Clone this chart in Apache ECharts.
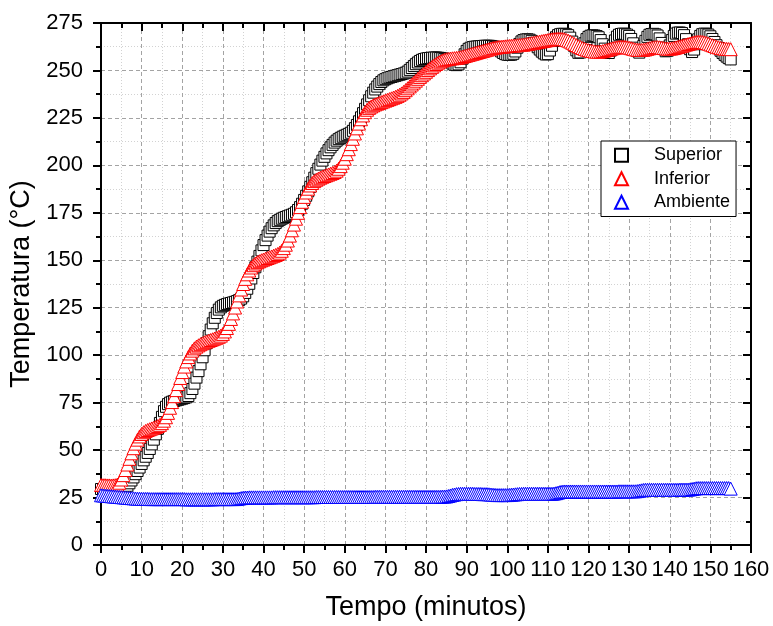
<!DOCTYPE html>
<html>
<head>
<meta charset="utf-8">
<script src="https://cdn.jsdelivr.net/npm/echarts@6/dist/echarts.min.js"></script>
<style>
  html, body { margin: 0; padding: 0; background: #ffffff; }
  #chart { width: 773px; height: 626px; }
</style>
</head>
<body>
<div id="chart"></div>
<script>
// Logger sampling interval (minutes between readings)
const SAMPLE_STEP = 0.5;

// Axis ticks
const xTicks = [0, 10, 20, 30, 40, 50, 60, 70, 80, 90, 100, 110, 120, 130, 140, 150, 160];
const yTicks = [0, 25, 50, 75, 100, 125, 150, 175, 200, 225, 250, 275];

const seriesNames = ['Superior', 'Inferior', 'Ambiente'];

// Top plate temperature (°C), one row = 5 minutes of readings
const superior = [
  29.5, 29.4, 29.3, 29.3, 29.2, 29.2, 29.1, 29.1, 29.2, 29.3,   // 0
  29.5, 29.8, 30.2, 31.2, 32.5, 34.0, 35.6, 37.3, 39.0, 40.8,   // 5
  42.7, 44.6, 46.5, 48.5, 50.6, 53.0, 55.5, 58.3, 61.2, 64.3,   // 10
  67.5, 70.5, 72.8, 74.2, 75.0, 75.5, 75.9, 76.2, 76.5, 76.8,   // 15
  77.1, 77.4, 77.8, 78.5, 80.0, 82.2, 85.0, 88.2, 91.6, 95.2,   // 20
  98.9, 102.6, 106.3, 110.0, 113.5, 116.8, 119.7, 122.2, 124.0, 125.2,   // 25
  126.0, 126.5, 126.9, 127.2, 127.5, 127.8, 128.1, 128.5, 129.0, 129.8,  // 30
  131.0, 132.8, 135.0, 137.6, 140.4, 143.3, 146.3, 149.3, 152.3, 155.2,  // 35
  158.0, 160.6, 163.0, 165.1, 166.9, 168.4, 169.6, 170.6, 171.3, 171.9,  // 40
  172.4, 172.8, 173.2, 173.6, 174.0, 174.5, 175.3, 176.5, 178.0, 179.8,  // 45
  181.8, 184.0, 186.3, 188.7, 191.1, 193.5, 195.9, 198.2, 200.4, 202.5,  // 50
  204.5, 206.3, 208.0, 209.5, 210.8, 212.0, 213.0, 213.8, 214.5, 215.1,  // 55
  215.6, 216.1, 216.6, 217.2, 218.2, 219.6, 221.3, 223.2, 225.3, 227.5,  // 60
  229.8, 232.1, 234.3, 236.4, 238.3, 240.0, 241.5, 242.8, 243.9, 244.8,  // 65
  245.4, 245.9, 246.3, 246.6, 246.9, 247.2, 247.5, 247.8, 248.1, 248.4,  // 70
  248.8, 249.4, 250.3, 251.3, 252.3, 253.3, 254.2, 255.0, 255.6, 256.0,  // 75
  256.3, 256.5, 256.6, 256.7, 256.8, 256.8, 256.7, 256.6, 256.4, 256.1,  // 80
  255.7, 255.1, 254.4, 253.6, 253.0, 252.8, 253.2, 254.3, 256.2, 258.5,  // 85
  260.3, 261.4, 262.0, 262.3, 262.5, 262.6, 262.7, 262.8, 262.9, 263.0,  // 90
  263.0, 263.0, 262.9, 262.7, 262.3, 261.7, 260.9, 260.0, 259.2, 258.6,  // 95
  258.3, 258.2, 258.3, 258.8, 260.0, 262.0, 264.0, 265.3, 266.0, 266.3,  // 100
  266.4, 266.2, 265.6, 264.6, 263.4, 262.2, 261.0, 259.9, 259.0, 258.4,  // 105
  258.6, 260.5, 263.0, 265.5, 267.5, 268.6, 269.1, 269.3, 269.3, 269.1,  // 110
  268.6, 267.3, 265.2, 262.8, 260.6, 259.3, 259.5, 261.5, 264.3, 266.5,  // 115
  267.7, 268.3, 268.5, 268.4, 268.1, 267.5, 266.0, 263.8, 261.5, 259.8,  // 120
  259.2, 260.5, 263.0, 265.8, 267.8, 268.8, 269.2, 269.4, 269.3, 268.9,  // 125
  268.2, 266.6, 264.3, 262.0, 260.2, 259.4, 260.3, 262.9, 265.6, 267.7,  // 130
  268.8, 269.2, 269.3, 269.0, 268.4, 266.9, 264.5, 262.1, 260.1, 260.4,  // 135
  263.2, 266.0, 268.2, 269.4, 269.9, 270.0, 269.7, 268.6, 266.5, 263.8,  // 140
  261.2, 259.7, 261.0, 263.8, 266.4, 268.2, 269.1, 269.4, 269.3, 268.9,  // 145
  268.0, 266.6, 265.0, 263.3, 261.8, 260.4, 259.2, 258.2, 257.3, 256.5,  // 150
  255.8                                                                  // 155
];

// Bottom plate temperature (°C)
const inferior = [
  31.6, 31.5, 31.5, 31.4, 31.4, 31.3, 31.4, 31.5, 31.8, 32.8,   // 0
  34.5, 36.8, 39.5, 42.4, 45.4, 48.3, 51.0, 53.4, 55.5, 57.2,   // 5
  58.5, 59.4, 60.1, 60.6, 61.0, 61.4, 61.8, 62.2, 62.7, 63.3,   // 10
  64.2, 65.5, 67.3, 69.6, 72.3, 75.3, 78.4, 81.6, 84.8, 88.0,   // 15
  91.1, 94.0, 96.7, 99.0, 100.9, 102.4, 103.6, 104.5, 105.2, 105.8,      // 20
  106.3, 106.8, 107.2, 107.6, 108.0, 108.4, 108.8, 109.2, 109.7, 110.3,  // 25
  111.2, 112.5, 114.3, 116.5, 119.1, 122.0, 125.1, 128.3, 131.5, 134.6,  // 30
  137.5, 140.2, 142.6, 144.6, 146.2, 147.4, 148.3, 149.0, 149.5, 150.0,  // 35
  150.4, 150.8, 151.2, 151.6, 152.0, 152.4, 152.8, 153.3, 154.0, 155.0,  // 40
  156.4, 158.2, 160.4, 163.0, 165.8, 168.8, 171.9, 175.0, 178.0, 180.8,  // 45
  183.4, 185.7, 187.7, 189.4, 190.7, 191.7, 192.4, 193.0, 193.5, 194.0,  // 50
  194.4, 194.8, 195.2, 195.6, 196.0, 196.5, 197.2, 198.2, 199.6, 201.4,  // 55
  203.5, 205.9, 208.5, 211.2, 214.0, 216.8, 219.5, 222.0, 224.3, 226.3,  // 60
  228.0, 229.3, 230.3, 231.0, 231.6, 232.1, 232.5, 232.9, 233.3, 233.7,  // 65
  234.1, 234.5, 234.9, 235.3, 235.7, 236.1, 236.6, 237.2, 237.9, 238.7,  // 70
  239.6, 240.6, 241.6, 242.6, 243.6, 244.6, 245.6, 246.6, 247.5, 248.4,  // 75
  249.3, 250.2, 251.1, 251.9, 252.7, 253.4, 254.1, 254.7, 255.2, 255.6,  // 80
  255.9, 256.1, 256.3, 256.4, 256.5, 256.6, 256.8, 257.0, 257.3, 257.6,  // 85
  257.9, 258.2, 258.5, 258.8, 259.1, 259.4, 259.7, 260.0, 260.3, 260.6,  // 90
  260.9, 261.2, 261.5, 261.8, 262.0, 262.2, 262.4, 262.5, 262.6, 262.7,  // 95
  262.8, 262.9, 263.0, 263.1, 263.2, 263.3, 263.4, 263.5, 263.6, 263.8,  // 100
  264.0, 264.2, 264.4, 264.6, 264.8, 265.0, 265.2, 265.4, 265.6, 265.8,  // 105
  266.0, 266.2, 266.4, 266.5, 266.6, 266.7, 266.7, 266.6, 266.4, 266.1,  // 110
  265.7, 265.2, 264.6, 264.0, 263.4, 262.8, 262.3, 261.8, 261.4, 261.0,  // 115
  260.7, 260.4, 260.2, 260.0, 259.9, 259.9, 260.0, 260.2, 260.5, 260.8,  // 120
  261.1, 261.4, 261.7, 262.0, 262.2, 262.4, 262.5, 262.5, 262.4, 262.2,  // 125
  262.0, 261.7, 261.4, 261.1, 260.9, 260.8, 260.8, 260.9, 261.1, 261.4,  // 130
  261.7, 262.0, 262.2, 262.3, 262.3, 262.2, 262.0, 261.8, 261.6, 261.5,  // 135
  261.5, 261.6, 261.8, 262.1, 262.4, 262.7, 263.0, 263.3, 263.6, 263.9,  // 140
  264.2, 264.5, 264.8, 265.0, 265.1, 265.1, 265.0, 264.8, 264.5, 264.1,  // 145
  263.7, 263.3, 262.9, 262.5, 262.2, 261.9, 261.7, 261.5, 261.4, 261.3,  // 150
  261.2                                                                  // 155
];

// Ambient temperature (°C)
const ambiente = [
  26.2, 26.1, 26.0, 25.9, 25.8, 25.7, 25.6, 25.5, 25.4, 25.3,   // 0
  25.2, 25.1, 25.0, 24.9, 24.8, 24.7, 24.6, 24.5, 24.4, 24.4,   // 5
  24.3, 24.3, 24.3, 24.3, 24.2, 24.2, 24.2, 24.2, 24.2, 24.2,   // 10
  24.2, 24.2, 24.2, 24.2, 24.2, 24.2, 24.2, 24.2, 24.2, 24.2,   // 15
  24.2, 24.2, 24.1, 24.1, 24.1, 24.1, 24.1, 24.1, 24.1, 24.1,   // 20
  24.1, 24.1, 24.1, 24.1, 24.1, 24.1, 24.2, 24.2, 24.2, 24.2,   // 25
  24.2, 24.2, 24.2, 24.2, 24.2, 24.2, 24.2, 24.3, 24.5, 24.7,   // 30
  24.9, 25.0, 25.0, 25.1, 25.1, 25.1, 25.1, 25.1, 25.1, 25.1,   // 35
  25.1, 25.1, 25.1, 25.1, 25.1, 25.2, 25.2, 25.2, 25.2, 25.2,   // 40
  25.2, 25.2, 25.2, 25.2, 25.2, 25.2, 25.2, 25.2, 25.2, 25.2,   // 45
  25.2, 25.2, 25.2, 25.2, 25.2, 25.2, 25.3, 25.3, 25.3, 25.3,   // 50
  25.3, 25.3, 25.3, 25.3, 25.3, 25.3, 25.3, 25.3, 25.3, 25.3,   // 55
  25.3, 25.3, 25.3, 25.3, 25.3, 25.3, 25.3, 25.3, 25.3, 25.3,   // 60
  25.3, 25.3, 25.3, 25.3, 25.3, 25.4, 25.4, 25.4, 25.4, 25.4,   // 65
  25.4, 25.4, 25.4, 25.4, 25.4, 25.4, 25.4, 25.4, 25.4, 25.4,   // 70
  25.4, 25.4, 25.4, 25.4, 25.4, 25.4, 25.4, 25.4, 25.4, 25.4,   // 75
  25.4, 25.4, 25.4, 25.4, 25.4, 25.4, 25.4, 25.4, 25.5, 25.5,   // 80
  25.6, 25.8, 26.1, 26.4, 26.6, 26.8, 26.9, 27.0, 27.0, 27.0,   // 85
  27.0, 27.0, 27.0, 27.0, 26.9, 26.9, 26.9, 26.9, 26.8, 26.8,   // 90
  26.8, 26.7, 26.6, 26.5, 26.4, 26.3, 26.3, 26.3, 26.3, 26.3,   // 95
  26.3, 26.4, 26.5, 26.6, 26.7, 26.8, 26.9, 26.9, 27.0, 27.0,   // 100
  27.0, 27.0, 27.0, 27.0, 27.0, 27.0, 27.0, 27.0, 27.0, 27.0,   // 105
  27.0, 27.0, 27.0, 27.1, 27.3, 27.6, 27.9, 28.1, 28.2, 28.2,   // 110
  28.2, 28.2, 28.2, 28.2, 28.2, 28.2, 28.2, 28.2, 28.2, 28.2,   // 115
  28.2, 28.2, 28.2, 28.2, 28.2, 28.2, 28.2, 28.2, 28.2, 28.2,   // 120
  28.2, 28.2, 28.2, 28.2, 28.2, 28.3, 28.3, 28.3, 28.3, 28.3,   // 125
  28.3, 28.3, 28.3, 28.3, 28.4, 28.6, 28.8, 29.0, 29.1, 29.1,   // 130
  29.1, 29.1, 29.1, 29.1, 29.1, 29.1, 29.1, 29.1, 29.1, 29.1,   // 135
  29.1, 29.1, 29.1, 29.1, 29.1, 29.2, 29.2, 29.2, 29.2, 29.2,   // 140
  29.3, 29.5, 29.7, 29.9, 30.0, 30.0, 30.0, 30.0, 30.0, 30.0,   // 145
  30.0, 30.0, 30.0, 30.0, 30.0, 30.0, 30.0, 30.0, 30.0, 30.0,   // 150
  29.7                                                          // 155
];

// Pair each reading with its time stamp
function withTime(values) {
  return values.map((v, i) => [i * SAMPLE_STEP, v]);
}

const FONT = '"Liberation Sans", Arial, Helvetica, sans-serif';
const xMin = xTicks[0], xMax = xTicks[xTicks.length - 1], xStep = xTicks[1] - xTicks[0];
const yMin = yTicks[0], yMax = yTicks[yTicks.length - 1], yStep = yTicks[1] - yTicks[0];

const axisLine = { show: true, onZero: false, lineStyle: { color: '#000', width: 2 } };
const majorTick = (inside) => ({ show: true, inside: inside, length: 8, lineStyle: { color: '#000', width: 2 } });
const minorTick = { show: true, splitNumber: 2, length: 5, lineStyle: { color: '#000', width: 2 } };
const majorGrid = { show: true, lineStyle: { color: '#a3a3a3', type: [4, 3], width: 1 } };
const minorGrid = { show: true, lineStyle: { color: '#d2d2d2', type: [1, 2], width: 1 } };

const chart = echarts.init(document.getElementById('chart'), null, { renderer: 'canvas' });

chart.setOption({
  backgroundColor: '#ffffff',
  animation: false,
  textStyle: { fontFamily: FONT },
  grid: { left: 101, right: 22, top: 23, bottom: 81, containLabel: false },
  legend: {
    orient: 'vertical',
    left: 601,
    top: 141,
    padding: [5, 6, 5, 13],
    itemWidth: 13,
    itemHeight: 13,
    itemGap: 5,
    borderColor: '#000',
    borderWidth: 1,
    borderRadius: 0,
    backgroundColor: '#fff',
    data: seriesNames,
    textStyle: { fontSize: 18, color: '#000', fontFamily: FONT, padding: [0, 0, 0, 21], lineHeight: 18.5 }
  },
  xAxis: [
    {
      type: 'value', position: 'bottom', min: xMin, max: xMax, interval: xStep,
      name: 'Tempo (minutos)', nameLocation: 'middle', nameGap: 49,
      nameTextStyle: { fontSize: 27, color: '#000', fontFamily: FONT },
      axisLine: axisLine,
      axisTick: majorTick(false),
      minorTick: minorTick,
      axisLabel: { fontSize: 22, color: '#000', margin: 14, fontFamily: FONT },
      splitLine: majorGrid,
      minorSplitLine: minorGrid
    },
    {
      type: 'value', position: 'top', min: xMin, max: xMax, interval: xStep,
      axisLine: axisLine,
      axisTick: majorTick(true),
      minorTick: minorTick,
      axisLabel: { show: false },
      splitLine: { show: false }
    }
  ],
  yAxis: [
    {
      type: 'value', position: 'left', min: yMin, max: yMax, interval: yStep,
      name: 'Temperatura (°C)', nameLocation: 'middle', nameGap: 56, nameRotate: 90,
      nameTextStyle: { fontSize: 27, color: '#000', fontFamily: FONT },
      axisLine: axisLine,
      axisTick: majorTick(false),
      minorTick: minorTick,
      axisLabel: { fontSize: 22, color: '#000', margin: 18, fontFamily: FONT },
      splitLine: majorGrid,
      minorSplitLine: minorGrid
    },
    {
      type: 'value', position: 'right', min: yMin, max: yMax, interval: yStep,
      axisLine: axisLine,
      axisTick: majorTick(true),
      minorTick: minorTick,
      axisLabel: { show: false },
      splitLine: { show: false }
    }
  ],
  series: [
    {
      name: seriesNames[0], type: 'scatter', xAxisIndex: 0, yAxisIndex: 0,
      symbol: 'rect', symbolSize: 11,
      itemStyle: { color: '#ffffff', borderColor: '#000000', borderWidth: 1, opacity: 1 },
      emphasis: { disabled: true },
      data: withTime(superior)
    },
    {
      name: seriesNames[1], type: 'scatter', xAxisIndex: 0, yAxisIndex: 0,
      symbol: 'triangle', symbolSize: 13,
      itemStyle: { color: '#ffffff', borderColor: '#ff0000', borderWidth: 1, opacity: 1 },
      emphasis: { disabled: true },
      data: withTime(inferior)
    },
    {
      name: seriesNames[2], type: 'scatter', xAxisIndex: 0, yAxisIndex: 0,
      symbol: 'triangle', symbolSize: 13,
      itemStyle: { color: '#ffffff', borderColor: '#0000ff', borderWidth: 1, opacity: 1 },
      emphasis: { disabled: true },
      data: withTime(ambiente)
    }
  ]
});
</script>
</body>
</html>
